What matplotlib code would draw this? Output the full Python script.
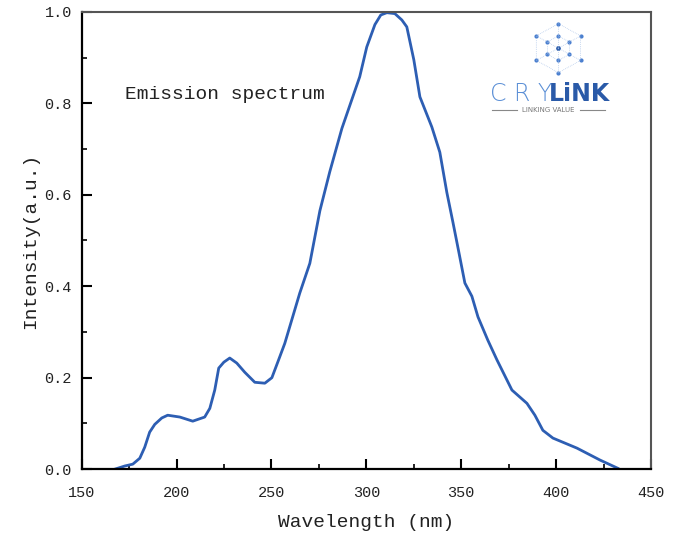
import matplotlib
matplotlib.use("Agg")
import matplotlib.pyplot as plt
import numpy as np
from matplotlib.ticker import MultipleLocator

# emission spectrum
wavelength = [167.4, 172.7, 176.9, 180.6, 183.2, 185.8, 188.5, 192.2, 195.3, 201.7,
              208.5, 214.8, 217.5, 220.1, 222.2, 224.9, 228.0, 231.7, 235.9, 241.2,
              246.5, 250.2, 253.3, 257.0, 264.9, 270.2, 275.5, 280.7, 287.1, 296.5,
              300.2, 304.5, 307.6, 310.8, 315.0, 318.7, 321.3, 325.0, 328.2, 334.5,
              338.7, 342.4, 345.6, 348.7, 351.9, 355.6, 358.8, 364.0, 368.8, 376.7,
              384.6, 388.8, 393.0, 398.3, 411.0, 423.1, 432.5]
intensity = [0.000, 0.007, 0.011, 0.024, 0.048, 0.081, 0.098, 0.112, 0.118, 0.114,
             0.105, 0.114, 0.133, 0.173, 0.221, 0.234, 0.243, 0.232, 0.212, 0.190,
             0.188, 0.200, 0.234, 0.275, 0.385, 0.450, 0.565, 0.650, 0.745, 0.858,
             0.923, 0.972, 0.993, 0.998, 0.996, 0.982, 0.967, 0.895, 0.814, 0.748,
             0.693, 0.605, 0.540, 0.475, 0.407, 0.378, 0.333, 0.282, 0.239, 0.173,
             0.144, 0.118, 0.085, 0.068, 0.046, 0.020, 0.002]

font = 'Liberation Mono'

fig = plt.figure(figsize=(6.81, 5.35), dpi=100)
ax = fig.add_axes([0.120, 0.123, 0.836, 0.855])

ax.plot(wavelength, intensity, color='#2d5eb3', lw=2)

ax.set_xlim(150, 450)
ax.set_ylim(0, 1.0)
ax.xaxis.set_major_locator(MultipleLocator(50))
ax.xaxis.set_minor_locator(MultipleLocator(25))
ax.yaxis.set_major_locator(MultipleLocator(0.2))
ax.yaxis.set_minor_locator(MultipleLocator(0.1))
ax.yaxis.set_major_formatter(matplotlib.ticker.FormatStrFormatter('%.1f'))

ax.tick_params(which='major', direction='in', length=7, width=1.5, labelsize=11)
ax.tick_params(axis='x', which='major', pad=12)
ax.tick_params(axis='y', which='major', pad=7)
ax.tick_params(which='minor', direction='in', length=3.5, width=1.2)
for lab in ax.get_xticklabels() + ax.get_yticklabels():
    lab.set_fontfamily(font)
    lab.set_color('#222222')

ax.spines['left'].set_linewidth(1.6)
ax.spines['bottom'].set_linewidth(1.6)
ax.spines['top'].set_color('#555555')
ax.spines['right'].set_color('#555555')
ax.spines['top'].set_linewidth(1.5)
ax.spines['right'].set_linewidth(1.5)

ax.set_xlabel('Wavelength (nm)', fontfamily=font, fontsize=14, labelpad=10, color='#222222')
ax.set_ylabel('Intensity(a.u.)', fontfamily=font, fontsize=14, labelpad=4, color='#222222')

ax.text(173, 0.82, 'Emission spectrum', fontfamily=font, fontsize=14, va='center',
        color='#222222')

# CRYLINK logo (decoration)
ax.text(0.717, 0.82, 'C R Y', transform=ax.transAxes, fontfamily='DejaVu Sans',
        fontsize=17, color='#5b8fd6', fontweight='light', va='center', ha='left')
ax.text(0.820, 0.82, 'LiNK', transform=ax.transAxes, fontfamily='DejaVu Sans',
        fontsize=17, color='#2a5aa8', fontweight='bold', va='center', ha='left')
ax.text(0.82, 0.786, 'LINKING VALUE', transform=ax.transAxes, fontfamily='DejaVu Sans',
        fontsize=5, color='#777777', va='center', ha='center')
ax.plot([0.72, 0.765], [0.786, 0.786], transform=ax.transAxes, color='#888888', lw=0.8)
ax.plot([0.875, 0.92], [0.786, 0.786], transform=ax.transAxes, color='#888888', lw=0.8)

lax = fig.add_axes([0.775, 0.855, 0.09, 0.11])
lax.set_xlim(-1.2, 1.2)
lax.set_ylim(-1.2, 1.2)
lax.axis('off')
ang = np.pi / 2 + np.arange(6) * np.pi / 3
for r in [0.5, 1.0]:
    hx, hy = r * np.cos(ang), r * np.sin(ang)
    lax.scatter(hx, hy, s=4, color='#4a7fcf')
    lax.plot(np.append(hx, hx[0]), np.append(hy, hy[0]), color='#9fbce6', lw=0.5, ls=':')
for a in ang:
    lax.plot([0, np.cos(a)], [0, np.sin(a)], color='#9fbce6', lw=0.5, ls=':')
lax.scatter([0], [0], s=6, color='#2a5aa8')

fig.savefig('out.png', dpi=100)
